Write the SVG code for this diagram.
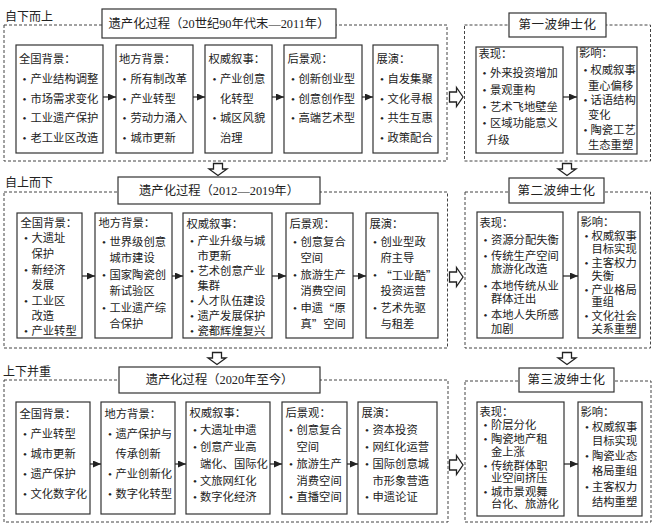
<svg xmlns="http://www.w3.org/2000/svg" width="656" height="529" viewBox="0 0 656 529">
<defs>
<style>
text{font-family:"Liberation Serif","Noto Sans CJK SC",serif;font-size:11.3px;fill:#222;dominant-baseline:central}
.cj{font-family:"Noto Sans CJK SC",serif}
.t{font-size:12.3px;text-anchor:middle}
.rt{font-size:12.5px;text-anchor:middle;letter-spacing:0.5px}
.lab{font-size:12px}
.box{fill:#fff;stroke:#333;stroke-width:1.2}
.dash{fill:none;stroke:#444;stroke-width:1;stroke-dasharray:3 2}
.hol{fill:#fff;stroke:#222;stroke-width:1.3;stroke-linejoin:miter}
.ar{stroke:#222;stroke-width:1.2;fill:none;marker-end:url(#ah)}
</style>
<marker id="ah" markerUnits="userSpaceOnUse" markerWidth="8" markerHeight="7" refX="8" refY="3.5" orient="auto">
<path d="M0,0 L8,3.5 L0,7 z" fill="#222"/>
</marker>
</defs>
<rect width="656" height="529" fill="#fff"/>

<!-- section frames -->
<g id="frames">
<rect class="dash" x="4" y="25" width="443" height="136"/>
<rect class="dash" x="464.5" y="25" width="186" height="136"/>
<rect class="dash" x="4" y="192" width="443.5" height="156"/>
<rect class="dash" x="465" y="192" width="185.5" height="156"/>
<rect class="dash" x="4" y="380" width="444" height="142"/>
<rect class="dash" x="465" y="381" width="186" height="141"/>
<text class="lab" x="5" y="17">自下而上</text>
<text class="lab" x="5" y="182.5">自上而下</text>
<text class="lab" x="3" y="372">上下并重</text>
</g>

<!-- titles -->
<g id="title1"><rect class="box" x="102" y="9" width="234" height="29"/><text class="t" x="219" y="23.5">遗产化过程（20世纪90年代末—2011年）</text></g>
<g id="title2"><rect class="box" x="118" y="177" width="202" height="27"/><text class="t" x="219" y="190.5">遗产化过程（2012—2019年）</text></g>
<g id="title3"><rect class="box" x="119" y="367" width="201" height="26"/><text class="t" x="219.5" y="380">遗产化过程（2020年至今）</text></g>
<g id="wave1"><rect class="box" x="509" y="13" width="97" height="24"/><text class="rt" x="557.5" y="25">第一波绅士化</text></g>
<g id="wave2"><rect class="box" x="509" y="178" width="95" height="25"/><text class="rt" x="556.5" y="190.5">第二波绅士化</text></g>
<g id="wave3"><rect class="box" x="519" y="368" width="95" height="24"/><text class="rt" x="566.5" y="380">第三波绅士化</text></g>

<!-- row 1 -->
<g id="r1-national"><rect class="box" x="16" y="45" width="87" height="108"/>
<text x="19" y="59">全国背景：</text>
<text y="79"><tspan x="22.5">•</tspan><tspan x="30.5">产业结构调整</tspan></text>
<text y="98.5"><tspan x="22.5">•</tspan><tspan x="30.5">市场需求变化</tspan></text>
<text y="118"><tspan x="22.5">•</tspan><tspan x="30.5">工业遗产保护</tspan></text>
<text y="137.5"><tspan x="22.5">•</tspan><tspan x="30.5">老工业区改造</tspan></text></g>
<g id="r1-local"><rect class="box" x="116" y="45" width="77" height="108"/>
<text x="119" y="59">地方背景：</text>
<text y="79"><tspan x="122.5">•</tspan><tspan x="130.5">所有制改革</tspan></text>
<text y="98.5"><tspan x="122.5">•</tspan><tspan x="130.5">产业转型</tspan></text>
<text y="118"><tspan x="122.5">•</tspan><tspan x="130.5">劳动力涌入</tspan></text>
<text y="137.5"><tspan x="122.5">•</tspan><tspan x="130.5">城市更新</tspan></text></g>
<g id="r1-narrative"><rect class="box" x="205" y="45" width="67" height="108"/>
<text x="208.5" y="59">权威叙事：</text>
<text y="79"><tspan x="212.5">•</tspan><tspan x="220">产业创意</tspan></text>
<text x="220" y="98.5">化转型</text>
<text y="118"><tspan x="212.5">•</tspan><tspan x="220">城区风貌</tspan></text>
<text x="220" y="137.5">治理</text></g>
<g id="r1-landscape"><rect class="box" x="284" y="45" width="78" height="108"/>
<text x="287.5" y="59">后景观：</text>
<text y="79"><tspan x="291">•</tspan><tspan x="298.5">创新创业型</tspan></text>
<text y="98.5"><tspan x="291">•</tspan><tspan x="298.5">创意创作型</tspan></text>
<text y="118"><tspan x="291">•</tspan><tspan x="298.5">高端艺术型</tspan></text></g>
<g id="r1-perform"><rect class="box" x="373" y="45" width="65" height="108"/>
<text x="376.5" y="59">展演：</text>
<text y="79"><tspan x="380">•</tspan><tspan x="387.5">自发集聚</tspan></text>
<text y="98.5"><tspan x="380">•</tspan><tspan x="387.5">文化寻根</tspan></text>
<text y="118"><tspan x="380">•</tspan><tspan x="387.5">共生互惠</tspan></text>
<text y="137.5"><tspan x="380">•</tspan><tspan x="387.5">政策配合</tspan></text></g>
<g id="w1-show"><rect class="box" x="476" y="47" width="87" height="106"/>
<text x="478.5" y="53.5">表现：</text>
<text y="73"><tspan x="482.5">•</tspan><tspan x="490">外来投资增加</tspan></text>
<text y="89.5"><tspan x="482.5">•</tspan><tspan x="490">景观重构</tspan></text>
<text y="106.5"><tspan x="482.5">•</tspan><tspan x="490">艺术飞地壁垒</tspan></text>
<text y="123"><tspan x="482.5">•</tspan><tspan x="490">区域功能意义</tspan></text>
<text x="487" y="140">升级</text></g>
<g id="w1-effect"><rect class="box" x="577" y="47" width="60" height="107"/>
<text x="579" y="53">影响：</text>
<text y="70"><tspan x="583.5">•</tspan><tspan x="590.5">权威叙事</tspan></text>
<text x="588" y="85.5">重心偏移</text>
<text y="100"><tspan x="583.5">•</tspan><tspan x="590.5">话语结构</tspan></text>
<text x="588" y="115">变化</text>
<text y="130"><tspan x="583.5">•</tspan><tspan x="590.5">陶瓷工艺</tspan></text>
<text x="588" y="145">生态重塑</text></g>

<!-- row 2 -->
<g id="r2-national"><rect class="box" x="17" y="213" width="65" height="125"/>
<text x="20.5" y="222.5">全国背景：</text>
<text y="238"><tspan x="24">•</tspan><tspan x="31.5">大遗址</tspan></text>
<text x="31.5" y="254">保护</text>
<text y="269.5"><tspan x="24">•</tspan><tspan x="31.5">新经济</tspan></text>
<text x="31.5" y="285">发展</text>
<text y="300.5"><tspan x="24">•</tspan><tspan x="31.5">工业区</tspan></text>
<text x="31.5" y="316">改造</text>
<text y="331"><tspan x="24">•</tspan><tspan x="31.5">产业转型</tspan></text></g>
<g id="r2-local"><rect class="box" x="95" y="213" width="77" height="125"/>
<text x="98.5" y="223">地方背景：</text>
<text y="242"><tspan x="102">•</tspan><tspan x="109.5">世界级创意</tspan></text>
<text x="109.5" y="258">城市建设</text>
<text y="275"><tspan x="102">•</tspan><tspan x="109.5">国家陶瓷创</tspan></text>
<text x="109.5" y="291">新试验区</text>
<text y="308"><tspan x="102">•</tspan><tspan x="109.5">工业遗产综</tspan></text>
<text x="109.5" y="324">合保护</text></g>
<g id="r2-narrative"><rect class="box" x="183" y="213" width="89" height="125"/>
<text x="186.5" y="224">权威叙事：</text>
<text y="241"><tspan x="190">•</tspan><tspan x="197.5">产业升级与城</tspan></text>
<text x="197.5" y="256">市更新</text>
<text y="271"><tspan x="190">•</tspan><tspan x="197.5">艺术创意产业</tspan></text>
<text x="197.5" y="286">集群</text>
<text y="301"><tspan x="190">•</tspan><tspan x="197.5">人才队伍建设</tspan></text>
<text y="316"><tspan x="190">•</tspan><tspan x="197.5">遗产发展保护</tspan></text>
<text y="331"><tspan x="190">•</tspan><tspan x="197.5">瓷都辉煌复兴</tspan></text></g>
<g id="r2-landscape"><rect class="box" x="286" y="213" width="67" height="125"/>
<text x="289.5" y="224">后景观：</text>
<text y="242"><tspan x="293">•</tspan><tspan x="300.5">创意复合</tspan></text>
<text x="300.5" y="258">空间</text>
<text y="275"><tspan x="293">•</tspan><tspan x="300.5">旅游生产</tspan></text>
<text x="300.5" y="291">消费空间</text>
<text y="308"><tspan x="293">•</tspan><tspan x="300.5">申遗</tspan><tspan class="cj">“</tspan>原</text>
<text x="300.5" y="324">真<tspan class="cj">”</tspan>空间</text></g>
<g id="r2-perform"><rect class="box" x="366" y="213" width="72" height="125"/>
<text x="369.5" y="224">展演：</text>
<text y="242"><tspan x="373">•</tspan><tspan x="380.5">创业型政</tspan></text>
<text x="380.5" y="258">府主导</text>
<text y="275"><tspan x="373">•</tspan><tspan x="380.5" class="cj">“工业酷”</tspan></text>
<text x="380.5" y="291">投资运营</text>
<text y="308"><tspan x="373">•</tspan><tspan x="380.5">艺术先驱</tspan></text>
<text x="380.5" y="324">与租差</text></g>
<g id="w2-show"><rect class="box" x="477" y="212" width="86" height="126"/>
<text x="479.5" y="223">表现：</text>
<text y="240"><tspan x="483.5">•</tspan><tspan x="491">资源分配失衡</tspan></text>
<text y="255.5"><tspan x="483.5">•</tspan><tspan x="491">传统生产空间</tspan></text>
<text x="491" y="268.5">旅游化改造</text>
<text y="285.5"><tspan x="483.5">•</tspan><tspan x="491">本地传统从业</tspan></text>
<text x="491" y="299">群体迁出</text>
<text y="315"><tspan x="483.5">•</tspan><tspan x="491">本地人失所感</tspan></text>
<text x="491" y="328.5">加剧</text></g>
<g id="w2-effect"><rect class="box" x="578" y="212" width="62" height="126"/>
<text x="580.5" y="222">影响：</text>
<text y="236"><tspan x="584.5">•</tspan><tspan x="591.5">权威叙事</tspan></text>
<text x="591.5" y="249">目标实现</text>
<text y="263"><tspan x="584.5">•</tspan><tspan x="591.5">主客权力</tspan></text>
<text x="591.5" y="275.5">失衡</text>
<text y="289.5"><tspan x="584.5">•</tspan><tspan x="591.5">产业格局</tspan></text>
<text x="591.5" y="302">重组</text>
<text y="316"><tspan x="584.5">•</tspan><tspan x="591.5">文化社会</tspan></text>
<text x="591.5" y="328.5">关系重塑</text></g>

<!-- row 3 -->
<g id="r3-national"><rect class="box" x="16" y="402" width="74" height="112"/>
<text x="19.5" y="414">全国背景：</text>
<text y="434"><tspan x="23">•</tspan><tspan x="30.5">产业转型</tspan></text>
<text y="454"><tspan x="23">•</tspan><tspan x="30.5">城市更新</tspan></text>
<text y="474"><tspan x="23">•</tspan><tspan x="30.5">遗产保护</tspan></text>
<text y="494"><tspan x="23">•</tspan><tspan x="30.5">文化数字化</tspan></text></g>
<g id="r3-local"><rect class="box" x="101" y="402" width="74" height="112"/>
<text x="104.5" y="414">地方背景：</text>
<text y="434"><tspan x="108">•</tspan><tspan x="115.5">遗产保护与</tspan></text>
<text x="115.5" y="454">传承创新</text>
<text y="474"><tspan x="108">•</tspan><tspan x="115.5">产业创新化</tspan></text>
<text y="494"><tspan x="108">•</tspan><tspan x="115.5">数字化转型</tspan></text></g>
<g id="r3-narrative"><rect class="box" x="186" y="402" width="84" height="112"/>
<text x="189.5" y="413">权威叙事：</text>
<text y="430"><tspan x="193">•</tspan><tspan x="200">大遗址申遗</tspan></text>
<text y="447"><tspan x="193">•</tspan><tspan x="200">创意产业高</tspan></text>
<text x="200" y="464">端化、国际化</text>
<text y="481"><tspan x="193">•</tspan><tspan x="200">文旅网红化</tspan></text>
<text y="496.5"><tspan x="193">•</tspan><tspan x="200">数字化经济</tspan></text></g>
<g id="r3-landscape"><rect class="box" x="282" y="402" width="65" height="112"/>
<text x="285.5" y="413">后景观：</text>
<text y="430"><tspan x="289">•</tspan><tspan x="296.5">创意复合</tspan></text>
<text x="296.5" y="447">空间</text>
<text y="464"><tspan x="289">•</tspan><tspan x="296.5">旅游生产</tspan></text>
<text x="296.5" y="481">消费空间</text>
<text y="496.5"><tspan x="289">•</tspan><tspan x="296.5">直播空间</tspan></text></g>
<g id="r3-perform"><rect class="box" x="358" y="402" width="79" height="112"/>
<text x="361.5" y="413">展演：</text>
<text y="430"><tspan x="365">•</tspan><tspan x="372.5">资本投资</tspan></text>
<text y="447"><tspan x="365">•</tspan><tspan x="372.5">网红化运营</tspan></text>
<text y="464"><tspan x="365">•</tspan><tspan x="372.5">国际创意城</tspan></text>
<text x="372.5" y="481">市形象营造</text>
<text y="496.5"><tspan x="365">•</tspan><tspan x="372.5">申遗论证</tspan></text></g>
<g id="w3-show"><rect class="box" x="477" y="402" width="87" height="114"/>
<text x="479.5" y="411.5">表现：</text>
<text y="425"><tspan x="483.5">•</tspan><tspan x="491">阶层分化</tspan></text>
<text y="439"><tspan x="483.5">•</tspan><tspan x="491">陶瓷地产租</tspan></text>
<text x="491" y="451.5">金上涨</text>
<text y="466"><tspan x="483.5">•</tspan><tspan x="491">传统群体职</tspan></text>
<text x="491" y="477.5">业空间挤压</text>
<text y="492"><tspan x="483.5">•</tspan><tspan x="491">城市景观舞</tspan></text>
<text x="491" y="504">台化、旅游化</text></g>
<g id="w3-effect"><rect class="box" x="578" y="402" width="64" height="114"/>
<text x="580.5" y="411.5">影响：</text>
<text y="427"><tspan x="585">•</tspan><tspan x="592">权威叙事</tspan></text>
<text x="592" y="441">目标实现</text>
<text y="456"><tspan x="585">•</tspan><tspan x="592">陶瓷业态</tspan></text>
<text x="592" y="471">格局重组</text>
<text y="487"><tspan x="585">•</tspan><tspan x="592">主客权力</tspan></text>
<text x="592" y="502">结构重塑</text></g>

<!-- connectors -->
<g id="connectors">
<line class="ar" x1="103" y1="97" x2="116" y2="97"/>
<line class="ar" x1="193" y1="97" x2="205" y2="97"/>
<line class="ar" x1="272" y1="97" x2="284" y2="97"/>
<line class="ar" x1="362" y1="97" x2="373" y2="97"/>
<line class="ar" x1="563" y1="97" x2="577" y2="97"/>
<line class="ar" x1="82" y1="276" x2="95" y2="276"/>
<line class="ar" x1="172" y1="276" x2="183" y2="276"/>
<line class="ar" x1="272" y1="276" x2="286" y2="276"/>
<line class="ar" x1="353" y1="276" x2="366" y2="276"/>
<line class="ar" x1="563" y1="276" x2="578" y2="276"/>
<line class="ar" x1="90" y1="464" x2="101" y2="464"/>
<line class="ar" x1="175" y1="464" x2="186" y2="464"/>
<line class="ar" x1="270" y1="464" x2="282" y2="464"/>
<line class="ar" x1="347" y1="464" x2="358" y2="464"/>
<line class="ar" x1="564" y1="464" x2="578" y2="464"/>
<!-- hollow right arrows -->
<polygon class="hol" points="449.5,92 456.5,92 456.5,87.5 463,97 456.5,106.5 456.5,102 449.5,102"/>
<polygon class="hol" points="449.5,272 456.5,272 456.5,267.5 463,277 456.5,286.5 456.5,282 449.5,282"/>
<polygon class="hol" points="449.5,460 456.5,460 456.5,455.5 463,465 456.5,474.5 456.5,470 449.5,470"/>
<!-- hollow down arrows -->
<polygon class="hol" points="213.5,163.5 222.5,163.5 222.5,169 227,169 218,175.5 209,169 213.5,169"/>
<polygon class="hol" points="562.5,163.5 571.5,163.5 571.5,169 576,169 567,175.5 558,169 562.5,169"/>
<polygon class="hol" points="212.5,352.5 221.5,352.5 221.5,358 226,358 217,364.5 208,358 212.5,358"/>
<polygon class="hol" points="562.5,352.5 571.5,352.5 571.5,358 576,358 567,364.5 558,358 562.5,358"/>
</g>
</svg>
